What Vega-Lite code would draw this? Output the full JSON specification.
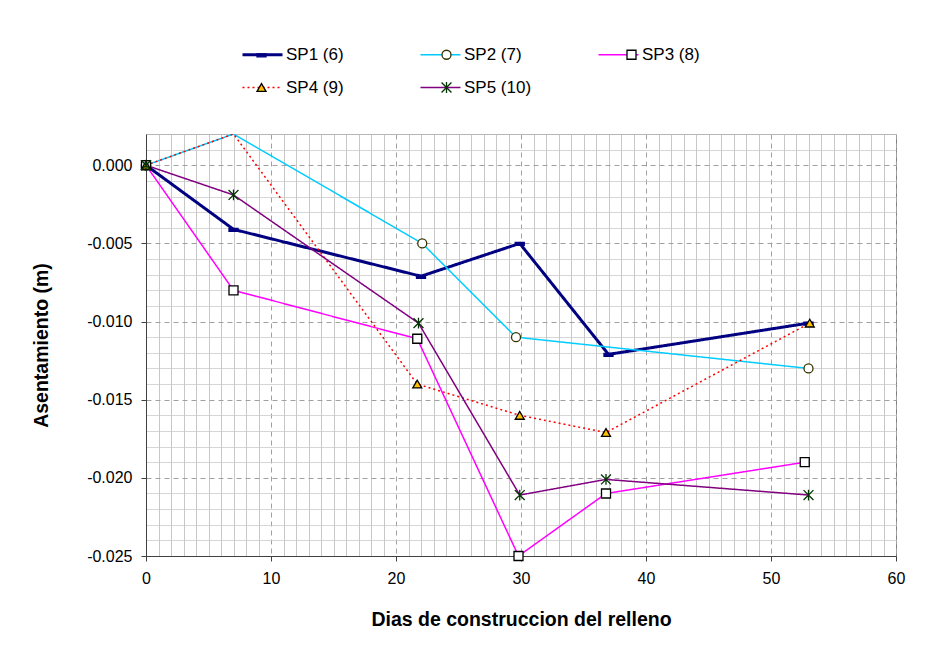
{
  "$schema": "https://vega.github.io/schema/vega-lite/v6.json",
  "width": 750,
  "height": 422,
  "autosize": {"type": "none"},
  "padding": {"left": 146, "top": 134, "right": 36, "bottom": 94},
  "background": "white",
  "config": {
    "font": "Liberation Sans",
    "view": {"stroke": "#808080", "strokeWidth": 1}
  },
  "data": {
    "values": [
      {"serie": "SP1 (6)", "dias": 0, "asent": 0},
      {"serie": "SP1 (6)", "dias": 7, "asent": -0.0041},
      {"serie": "SP1 (6)", "dias": 22, "asent": -0.0071},
      {"serie": "SP1 (6)", "dias": 29.9, "asent": -0.005},
      {"serie": "SP1 (6)", "dias": 37, "asent": -0.0121},
      {"serie": "SP1 (6)", "dias": 53, "asent": -0.0101},
      {"serie": "SP2 (7)", "dias": 0, "asent": 0},
      {"serie": "SP2 (7)", "dias": 7, "asent": 0.002},
      {"serie": "SP2 (7)", "dias": 22.1, "asent": -0.005},
      {"serie": "SP2 (7)", "dias": 29.6, "asent": -0.011},
      {"serie": "SP2 (7)", "dias": 53, "asent": -0.013},
      {"serie": "SP3 (8)", "dias": 0, "asent": 0},
      {"serie": "SP3 (8)", "dias": 7, "asent": -0.008},
      {"serie": "SP3 (8)", "dias": 21.7, "asent": -0.0111},
      {"serie": "SP3 (8)", "dias": 29.8, "asent": -0.025},
      {"serie": "SP3 (8)", "dias": 36.8, "asent": -0.021},
      {"serie": "SP3 (8)", "dias": 52.7, "asent": -0.019},
      {"serie": "SP4 (9)", "dias": 0, "asent": 0},
      {"serie": "SP4 (9)", "dias": 7, "asent": 0.002},
      {"serie": "SP4 (9)", "dias": 21.7, "asent": -0.014},
      {"serie": "SP4 (9)", "dias": 29.9, "asent": -0.016},
      {"serie": "SP4 (9)", "dias": 36.8, "asent": -0.0171},
      {"serie": "SP4 (9)", "dias": 53.1, "asent": -0.0101},
      {"serie": "SP5 (10)", "dias": 0, "asent": 0},
      {"serie": "SP5 (10)", "dias": 7, "asent": -0.0019},
      {"serie": "SP5 (10)", "dias": 21.8, "asent": -0.0101},
      {"serie": "SP5 (10)", "dias": 29.9, "asent": -0.0211},
      {"serie": "SP5 (10)", "dias": 36.8, "asent": -0.0201},
      {"serie": "SP5 (10)", "dias": 53, "asent": -0.0211}
    ]
  },
  "encoding": {
    "x": {
      "field": "dias",
      "type": "quantitative",
      "scale": {"domain": [0, 60], "nice": false, "zero": false},
      "axis": {
        "values": [0,1,2,3,4,5,6,7,8,9,10,11,12,13,14,15,16,17,18,19,20,21,22,23,24,25,26,27,28,29,30,31,32,33,34,35,36,37,38,39,40,41,42,43,44,45,46,47,48,49,50,51,52,53,54,55,56,57,58,59,60],
        "labelExpr": "datum.value % 10 === 0 ? datum.label : ''",
        "labelOverlap": false,
        "labelFlush": false,
        "labelFontSize": 16,
        "labelColor": "black",
        "labelPadding": 9,
        "grid": true,
        "gridColor": {"condition": {"test": "datum.value % 10 === 0", "value": "#A0A0A0"}, "value": "#B4B4B4"},
        "gridDash": {"condition": {"test": "datum.value % 10 === 0", "value": [5, 4]}, "value": [1, 0]},
        "tickSize": 5,
        "tickColor": "#404040",
        "tickOpacity": {"condition": {"test": "datum.value % 10 === 0", "value": 1}, "value": 0},
        "domainColor": "#404040",
        "title": "Dias de construccion del relleno",
        "titleFontSize": 19.5,
        "titleFontWeight": "bold",
        "titleColor": "black",
        "titlePadding": 24
      }
    },
    "y": {
      "field": "asent",
      "type": "quantitative",
      "scale": {"domain": [-0.025, 0.002], "nice": false, "zero": false},
      "axis": {
        "values": [-0.025,-0.024,-0.023,-0.022,-0.021,-0.02,-0.019,-0.018,-0.017,-0.016,-0.015,-0.014,-0.013,-0.012,-0.011,-0.01,-0.009,-0.008,-0.007,-0.006,-0.005,-0.004,-0.003,-0.002,-0.001,0,0.001,0.002],
        "format": ".3f",
        "labelExpr": "abs(round(datum.value*1000)) % 5 === 0 ? replace(datum.label, '\u2212', '-') : ''",
        "labelOverlap": false,
        "labelFlush": false,
        "labelFontSize": 16,
        "labelColor": "black",
        "labelPadding": 9,
        "grid": true,
        "gridColor": {"condition": {"test": "abs(round(datum.value*1000)) % 5 === 0", "value": "#A0A0A0"}, "value": "#C8C8C8"},
        "gridDash": {"condition": {"test": "abs(round(datum.value*1000)) % 5 === 0", "value": [5, 4]}, "value": [1, 0]},
        "tickSize": 5,
        "tickColor": "#404040",
        "tickOpacity": {"condition": {"test": "abs(round(datum.value*1000)) % 5 === 0", "value": 1}, "value": 0},
        "domainColor": "#404040",
        "title": "Asentamiento (m)",
        "titleFontSize": 19.5,
        "titleFontWeight": "bold",
        "titleColor": "black",
        "titlePadding": 35
      }
    }
  },
  "layer": [
    {
      "mark": {"type": "line", "clip": true},
      "encoding": {
        "color": {
          "field": "serie",
          "type": "nominal",
          "scale": {
            "domain": ["SP1 (6)", "SP2 (7)", "SP3 (8)", "SP4 (9)", "SP5 (10)"],
            "range": ["#000080", "#00CCFF", "#FF00FF", "#FF0000", "#800080"]
          },
          "legend": {
            "orient": "none",
            "legendX": 108,
            "legendY": -88,
            "direction": "horizontal",
            "columns": 3,
            "gridAlign": "all",
            "title": null,
            "padding": 0,
            "symbolType": "stroke",
            "symbolSize": 1600,
            "symbolStrokeWidth": 1.5,
            "labelFontSize": 17,
            "labelColor": "black",
            "labelOffset": 15,
            "columnPadding": 63,
            "rowPadding": 15,
            "encode": {"symbols": {"update": {"strokeWidth": {"signal": "datum.value === 'SP1 (6)' ? 3 : 1.5"}}}}
          }
        },
        "strokeDash": {
          "field": "serie",
          "type": "nominal",
          "scale": {
            "domain": ["SP1 (6)", "SP2 (7)", "SP3 (8)", "SP4 (9)", "SP5 (10)"],
            "range": [[1, 0], [1, 0], [1, 0], [2, 3], [1, 0]]
          }
        },
        "strokeWidth": {"condition": {"test": "datum.serie === 'SP1 (6)'", "value": 3}, "value": 1.5}
      }
    },
    {
      "transform": [{"filter": "datum.asent < 0.0019"}],
      "mark": {"type": "point", "filled": true, "opacity": 1, "size": 81, "strokeWidth": 1.3},
      "encoding": {
        "shape": {
          "field": "serie",
          "type": "nominal",
          "scale": {"range": ["M-1,-0.2H1V0.45H-1Z", "circle", "square", "triangle-up", "M-1.1,-1.1L1.1,1.1M-1.1,1.1L1.1,-1.1M0,-1.2V1.2"]},
          "legend": {
            "orient": "none",
            "legendX": 107,
            "legendY": -88,
            "direction": "horizontal",
            "columns": 3,
            "gridAlign": "all",
            "title": null,
            "padding": 0,
            "symbolSize": 81,
            "symbolStrokeWidth": 1.3,
            "symbolOpacity": 1,
            "labelFontSize": 17,
            "labelExpr": "''",
            "labelOffset": 0,
            "columnPadding": 168,
            "rowPadding": 15
          }
        },
        "fill": {
          "field": "serie",
          "type": "nominal",
          "scale": {"range": ["#000080", "#FFFFFF", "#FFFFFF", "#FFC000", "#003300"]}
        },
        "stroke": {
          "field": "serie",
          "type": "nominal",
          "scale": {"range": ["#000080", "#333300", "#000000", "#000000", "#003300"]}
        }
      }
    }
  ]
}
